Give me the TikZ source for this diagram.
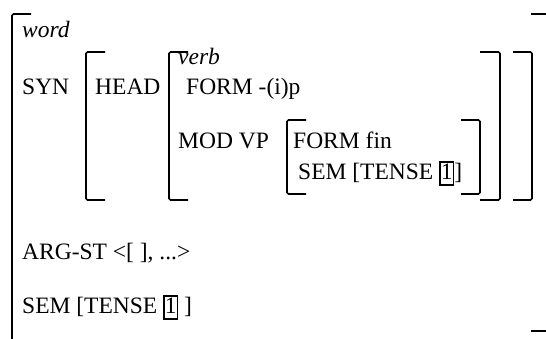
\documentclass[tikz,border=0pt]{standalone}
\usepackage{fontspec}
\setmainfont{Liberation Serif}
% boxed structure-sharing tag
\newcommand\tagbox[1]{{\setlength\fboxsep{0.4pt}\setlength\fboxrule{1.3pt}\fbox{\rule[-5pt]{0pt}{21pt}#1}}}
\tikzset{
  avm/.style={anchor=base west, inner sep=0pt, font=\fontsize{23.5}{28}\selectfont},
  brk/.style={line width=1.6pt, rounded corners=1.5pt},
}
\begin{document}
\begin{tikzpicture}[x=1pt,y=-1pt]
\useasboundingbox (0,0) rectangle (546,338);

% feature labels and values
\node[avm] (word)    at (22,37)  {\itshape word};
\node[avm] (syn)     at (22,94)  {SYN};
\node[avm] (head)    at (95,94)  {HEAD};
\node[avm] (verb)    at (178,64) {\itshape verb};
\node[avm] (formip)  at (186,94) {FORM -(i)p};
\node[avm] (modvp)   at (178,148) {MOD VP};
\node[avm] (formfin) at (293,148) {FORM fin};
\node[avm] (semin)   at (298,179) {SEM [TENSE \tagbox{1}]};
\node[avm] (argst)   at (22,259) {ARG-ST <[ ], ...>};
\node[avm] (semout)  at (22,313) {SEM [TENSE \tagbox{1} ]};

% outer word matrix
\draw[brk] (31,14) -- (12,14) -- (12,339);
\draw[brk] (531,14) -- (547,14);
\draw[brk] (531,331) -- (547,331);

% SYN value
\draw[brk] (105,52) -- (86,52) -- (86,200) -- (105,200);
\draw[brk] (513,52) -- (532,52) -- (532,200) -- (513,200);

% HEAD value (verb)
\draw[brk] (188,52) -- (169,52) -- (169,200) -- (188,200);
\draw[brk] (480,52) -- (500,52) -- (500,200) -- (480,200);

% MOD VP value
\draw[brk] (306,120) -- (287,120) -- (287,194) -- (306,194);
\draw[brk] (461,120) -- (480,120) -- (480,194) -- (461,194);
\end{tikzpicture}
\end{document}
